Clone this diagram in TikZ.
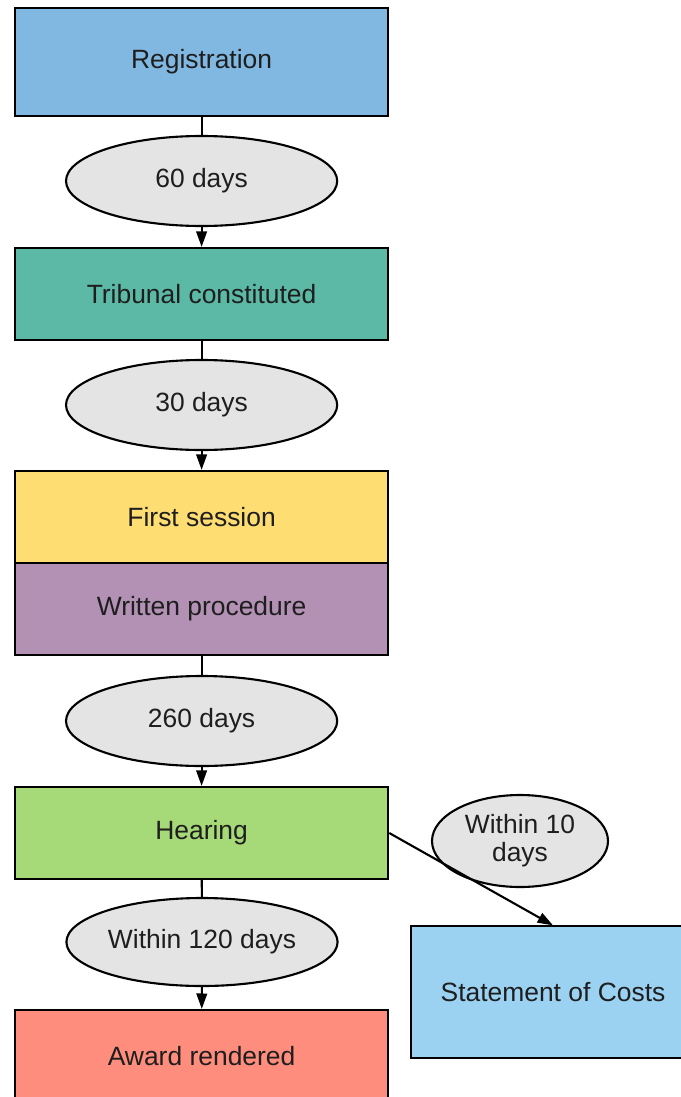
\documentclass[tikz,border=0pt]{standalone}
\usepackage{fontspec}
\setmainfont{Liberation Sans}
\usetikzlibrary{shapes.geometric,arrows.meta}

\definecolor{regblue}{HTML}{80B8E2}
\definecolor{tribgreen}{HTML}{5BB9A5}
\definecolor{firstyellow}{HTML}{FEDD73}
\definecolor{writtenpurple}{HTML}{B391B4}
\definecolor{hearinggreen}{HTML}{A6D977}
\definecolor{awardred}{HTML}{FF8D7D}
\definecolor{costsblue}{HTML}{9BD2F2}
\definecolor{daysgrey}{HTML}{E4E4E4}
\definecolor{inkgrey}{HTML}{1E1E1E}

\begin{document}
\begin{tikzpicture}[line width=1.5pt,
  every node/.style={font=\fontsize{18.8}{22}\selectfont, text=inkgrey},
  stagebox/.style={shape=rectangle,draw,minimum width=9.33cm,minimum height=2.3cm,inner sep=0pt},
  daysell/.style={shape=ellipse,draw,fill=daysgrey,minimum width=6.78cm,minimum height=2.25cm,inner sep=0pt},
  tip/.style={-{Triangle[width=7.5pt,length=11pt]}}]
\useasboundingbox (0,0) rectangle (17,-27.425);
% main stages
\path (5.04,-1.55) node (reg) [stagebox,fill=regblue,minimum height=2.7cm] {Registration};
\path (5.04,-4.525) node (d60) [daysell] {60 days};
\path (5.04,-7.35) node (trib) [stagebox,fill=tribgreen] {Tribunal constituted};
\path (5.04,-10.125) node (d30) [daysell] {30 days};
\path (5.04,-12.925) node (first) [stagebox,fill=firstyellow] {First session};
\path (5.04,-15.225) node (written) [stagebox,fill=writtenpurple] {Written procedure};
\path (5.04,-18.025) node (d260) [daysell] {260 days};
\path (5.04,-20.825) node (hear) [stagebox,fill=hearinggreen] {Hearing};
\path (5.05,-23.55) node (d120) [daysell,minimum height=2.2cm] {Within 120 days};
\path (5.04,-26.4) node (award) [stagebox,fill=awardred] {Award rendered};

% side branch
\path (13.0,-21.025) node (d10) [daysell,align=center,minimum width=4.4cm,minimum height=2.3cm] {Within 10\\[-2pt]days};
\path (13.825,-24.8) node (costs) [stagebox,fill=costsblue,minimum width=7.1cm,minimum height=3.28cm] {Statement of Costs};

\draw (reg) to (d60);
\draw [tip] (d60) to (trib);
\draw (trib) to (d30);
\draw [tip] (d30) to (first);
\draw (written) to (d260);
\draw [tip] (d260) to (hear);
\draw (hear) to (d120);
\draw [tip] (d120) to (award);
\draw [tip] (hear.east) to (costs.north);

\end{tikzpicture}
\end{document}
